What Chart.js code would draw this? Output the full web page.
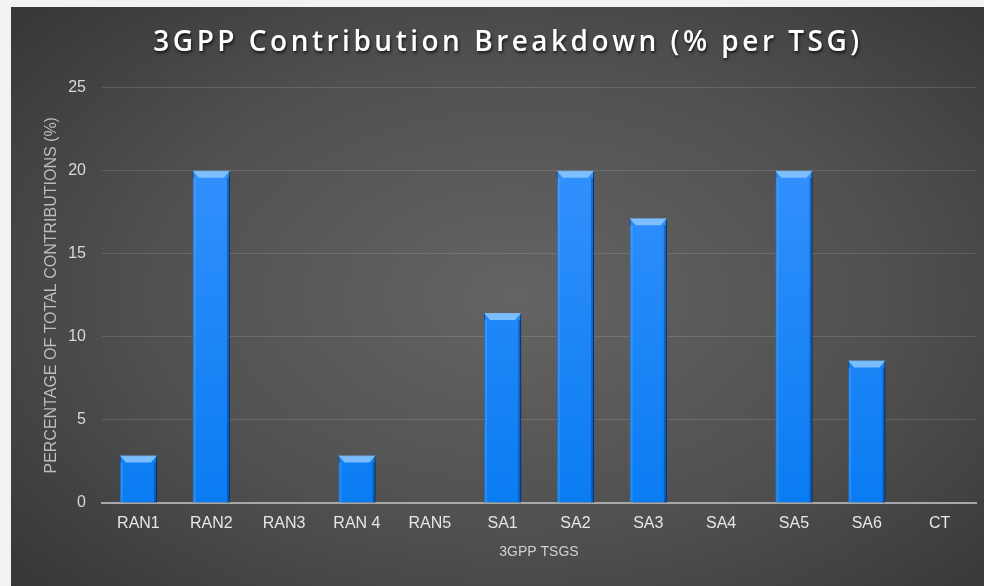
<!DOCTYPE html>
<html lang="en">
<head>
<meta charset="UTF-8">
<title>3GPP Contribution Breakdown</title>
<style>
  html, body { margin: 0; padding: 0; background: #f2f2f2; }
  #wrap {
    position: absolute; left: 11px; top: 7px; width: 973px; height: 579px;
    background: radial-gradient(ellipse 70% 75% at 52% 50%, #646464 0%, #505050 55%, #363636 100%);
  }
</style>
</head>
<body>
<div id="wrap"><canvas id="chart"></canvas></div>
<script src="https://cdn.jsdelivr.net/npm/chart.js"></script>
<script>
// data
const tsgs = ['RAN1', 'RAN2', 'RAN3', 'RAN 4', 'RAN5', 'SA1', 'SA2', 'SA3', 'SA4', 'SA5', 'SA6', 'CT'];
const share = [2.86, 20, 0, 2.86, 0, 11.43, 20, 17.14, 0, 20, 8.57, 0];
const yTicks = [0, 5, 10, 15, 20, 25];

const labelFont = "'Liberation Sans', Arial, sans-serif";

// spaced, shadowed title
const titleStyle = {
  id: 'titleStyle',
  beforeDraw(chart) {
    const tb = chart.titleBlock;
    if (!tb || tb._styled) return;
    const orig = tb.draw.bind(tb);
    tb.draw = function () {
      const ctx = chart.ctx;
      ctx.save();
      ctx.letterSpacing = '3.5px';
      ctx.shadowColor = 'rgba(0,0,0,0.7)';
      ctx.shadowBlur = 3;
      ctx.shadowOffsetX = 1;
      ctx.shadowOffsetY = 2;
      ctx.translate(1, 0);
      orig();
      ctx.restore();
    };
    tb._styled = true;
  }
};

// soft shadow + bevelled top on the bars
const bevel = {
  id: 'bevel',
  beforeDatasetsDraw(chart) {
    const ctx = chart.ctx;
    ctx.save();
    ctx.shadowColor = 'rgba(0,0,0,0.55)';
    ctx.shadowBlur = 5;
    ctx.shadowOffsetX = 2;
  },
  afterDatasetsDraw(chart) {
    const ctx = chart.ctx;
    ctx.restore();
    chart.getDatasetMeta(0).data.forEach(bar => {
      const h = bar.base - bar.y;
      if (h < 2) return;
      const l = bar.x - bar.width / 2, r = bar.x + bar.width / 2, t = bar.y;
      const d = Math.min(7, h / 2);
      ctx.save();
      ctx.fillStyle = 'rgba(140,200,255,0.85)';
      ctx.beginPath();
      ctx.moveTo(l, t); ctx.lineTo(r, t); ctx.lineTo(r - 6, t + d); ctx.lineTo(l + 6, t + d);
      ctx.closePath(); ctx.fill();
      ctx.fillStyle = 'rgba(0,40,110,0.35)';
      ctx.fillRect(r - 3, t + d, 3, h - d);
      ctx.fillStyle = 'rgba(120,190,255,0.25)';
      ctx.fillRect(l, t + d, 3, h - d);
      ctx.restore();
    });
  }
};

new Chart(document.getElementById('chart'), {
  type: 'bar',
  data: {
    labels: tsgs,
    datasets: [{
      data: share,
      backgroundColor(c) {
        const area = c.chart.chartArea;
        if (!area) return '#1687ff';
        const g = c.chart.ctx.createLinearGradient(0, area.top, 0, area.bottom);
        g.addColorStop(0, '#3b95ff');
        g.addColorStop(1, '#0a7cf2');
        return g;
      },
      borderColor: '#0b56b0',
      borderWidth: 1,
      borderSkipped: 'bottom',
      barPercentage: 0.51,
      categoryPercentage: 1
    }]
  },
  options: {
    responsive: true,
    maintainAspectRatio: false,
    animation: false,
    layout: { padding: { left: 27, right: 8, top: 0, bottom: 25 } },
    plugins: {
      legend: { display: false },
      tooltip: { enabled: false },
      title: {
        display: true,
        text: '3GPP Contribution Breakdown (% per TSG)',
        color: '#ffffff',
        font: { family: "'Open Sans', sans-serif", size: 28, weight: '600' },
        padding: { top: 19, bottom: 28 }
      }
    },
    scales: {
      x: {
        grid: { display: false, drawTicks: false },
        border: { color: '#a8a8a8', width: 2 },
        ticks: { color: '#e6e6e6', font: { family: labelFont, size: 16 }, padding: 11 },
        title: {
          display: true, text: '3GPP TSGS', color: '#d0d0d0',
          font: { family: labelFont, size: 14 }, padding: { top: 0, bottom: 0 }
        }
      },
      y: {
        min: 0, max: 25,
        afterBuildTicks(s) { s.ticks = yTicks.map(v => ({ value: v })); },
        afterFit(s) { s.width = 64; },
        grid: { color: 'rgba(255,255,255,0.13)', drawTicks: false },
        border: { display: false },
        ticks: { color: '#d9d9d9', font: { family: labelFont, size: 16 }, padding: 16 },
        title: {
          display: true, text: 'PERCENTAGE OF TOTAL CONTRIBUTIONS (%)', color: '#bdbdbd',
          font: { family: labelFont, size: 16 }, padding: { top: 4, bottom: 4 }
        }
      }
    }
  },
  plugins: [titleStyle, bevel]
});
</script>
</body>
</html>
